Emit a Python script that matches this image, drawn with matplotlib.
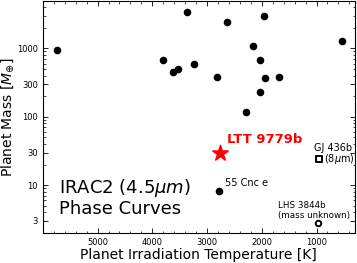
import matplotlib
matplotlib.use("Agg")
import matplotlib.pyplot as plt
from matplotlib.ticker import FixedLocator, FixedFormatter, LogLocator, MultipleLocator, NullFormatter

# phase-curve planets (irradiation temperature [K], mass [Earth masses])
temps = [5744, 3806, 3623, 3532, 3367, 2636, 1960, 2161, 534, 3240,
         2819, 2033, 1942, 1686, 2033, 2289]
masses = [962, 665, 445, 492, 3440, 2460, 3010, 1100, 1300, 582,
          376, 687, 363, 376, 227, 116]

ltt_temp, ltt_mass = 2764, 29.3
cnc_temp, cnc_mass = 2782, 8.2
gj_temp, gj_mass = 954, 24
lhs_temp, lhs_mass = 973, 2.8

y_ticks = [3, 10, 30, 100, 300, 1000]
y_labels = ["3", "10", "30", "100", "300", "1000"]

fig = plt.figure(figsize=(3.57, 2.63), dpi=100)
ax = fig.add_axes([0.120, 0.114, 0.874, 0.884])

ax.scatter(temps, masses, s=20, color="black", zorder=3)
ax.scatter([cnc_temp], [cnc_mass], s=20, color="black", zorder=3)
ax.scatter([gj_temp], [gj_mass], s=16, marker="s", facecolor="white",
           edgecolor="black", linewidth=1.4, zorder=3)
ax.scatter([lhs_temp], [lhs_mass], s=16, marker="o", facecolor="white",
           edgecolor="black", linewidth=1.4, zorder=3)
ax.scatter([ltt_temp], [ltt_mass], s=140, marker="*", color="red", zorder=4)

ax.set_yscale("log")
ax.set_xlim(6000, 300)
ax.set_ylim(2, 5000)

ax.xaxis.set_major_locator(FixedLocator([5000, 4000, 3000, 2000, 1000]))
ax.xaxis.set_minor_locator(MultipleLocator(200))
ax.yaxis.set_major_locator(FixedLocator(y_ticks))
ax.yaxis.set_major_formatter(FixedFormatter(y_labels))
ax.yaxis.set_minor_locator(LogLocator(base=10, subs=range(1, 10)))
ax.yaxis.set_minor_formatter(NullFormatter())
ax.tick_params(which="both", direction="in", top=True, right=True, labelsize=6)
ax.tick_params(which="major", length=3.5, width=0.6)
ax.tick_params(which="minor", length=1.8, width=0.5)
for spine in ax.spines.values():
    spine.set_linewidth(0.8)

ax.set_xlabel("Planet Irradiation Temperature [K]", fontsize=10, labelpad=1)
ax.set_ylabel(r"Planet Mass [$M_{\oplus}$]", fontsize=10, labelpad=1)

ax.text(2630, 37, "LTT 9779b", color="red", fontsize=9.5, fontweight="bold",
        ha="left", va="bottom")
ax.text(1050, 30, "GJ 436b", fontsize=7, ha="left", va="bottom")
ax.text(870, gj_mass, r"(8$\mu$m)", fontsize=7, ha="left", va="center")
ax.text(2680, 9.2, "55 Cnc e", fontsize=7, ha="left", va="bottom")
ax.text(1710, 3.05, "LHS 3844b\n(mass unknown)", fontsize=6.3, ha="left",
        va="bottom", linespacing=1.2)
ax.text(5700, 3.3, "IRAC2 (4.5$\\mu m$)\nPhase Curves", fontsize=13,
        ha="left", va="bottom", linespacing=1.05)

fig.savefig("out.png", dpi=100)
